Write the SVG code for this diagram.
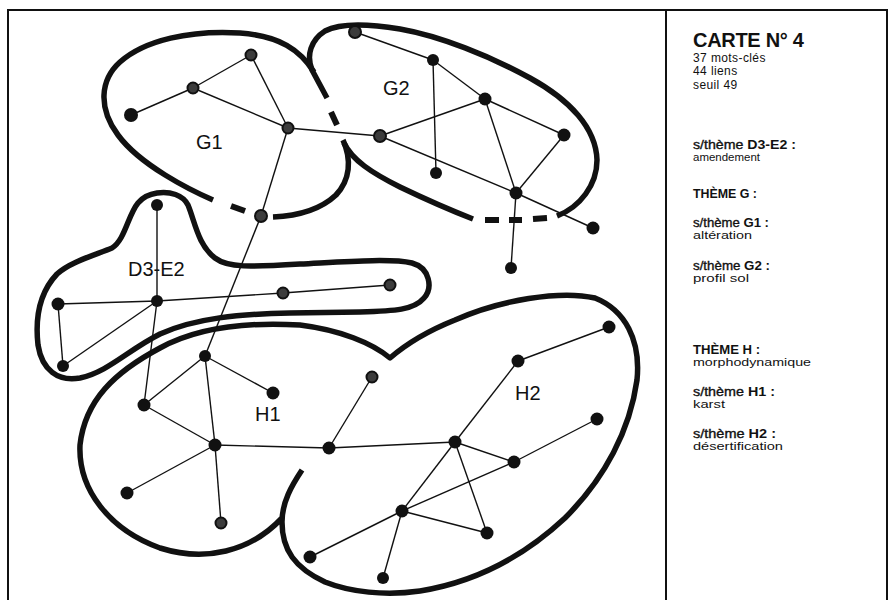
<svg xmlns="http://www.w3.org/2000/svg" width="890" height="600" viewBox="0 0 890 600">
  <style>
    .frame { fill: none; stroke: #111; stroke-width: 2; }
    .zone { fill: none; stroke: #111; stroke-width: 5.5; stroke-linecap: butt; stroke-linejoin: round; }
    .dash { fill: none; stroke: #111; stroke-width: 6; stroke-linecap: butt; }
    .edge { stroke: #111; stroke-width: 1.4; fill: none; }
    .n { fill: #111; }
    .h { fill: #3c3c3c; stroke: #111; stroke-width: 2; }
    .lab { font-family: "Liberation Sans", Arial, sans-serif; font-size: 20px; fill: #111; }
    .leg { font-family: "Liberation Sans", Arial, sans-serif; fill: #111; }
    .title { font-size: 20px; font-weight: bold; letter-spacing: -0.3px; }
    .stat { font-size: 12px; letter-spacing: 0.4px; }
    .head { font-size: 12.5px; }
    .head .pre { stroke: #111; stroke-width: 0.35; }
    .head .code { font-weight: bold; }
    .theme { font-size: 12.5px; font-weight: bold; }
    .sub { font-size: 11.5px; }
  </style>

  <!-- page frame: left, top, right borders and the legend divider -->
  <path class="frame" d="M8,600 L8,10 L887,10 L887,600 M666,10 L666,600"/>

  <!-- theme zones -->
  <g id="zones">
    <!-- G1 -->
    <path class="zone" d="M213,200 C190,190 140,165 118,135 C98,108 100,80 120,62 C145,40 190,30 240,33 C280,36 300,50 314,72"/>
    <path class="zone" d="M343,140 C352,160 350,180 336,195 C320,210 296,216 273,217"/>
    <path class="dash" d="M231,206 L245,211"/>
    <path class="dash" d="M331,112 L337,125"/>
    <!-- G2 -->
    <path class="zone" d="M557,216 C580,207 597,185 597,160 C596,128 570,100 530,78 C490,56 440,36 400,29 C370,24 340,23 325,31 C311,40 306,55 312,70 L327,98"/>
    <path class="zone" d="M344,143 C352,160 372,173 400,187 C425,199 450,210 473,219"/>
    <path class="dash" d="M485,220 L499,220 M509,220 L522,220 M533,219 L547,218"/>
    <!-- D3-E2 -->
    <path class="zone" d="M157,193 C170,191 183,195 188,205 C195,222 198,245 215,258 C228,268 250,267 300,264 C340,262 390,258 412,263 C430,268 433,288 424,298 C414,310 395,311 360,312 L290,313 C240,314 195,318 160,334 C128,350 108,372 80,378 C58,382 42,370 38,345 C35,318 40,292 57,274 C70,262 95,255 112,248 C125,240 128,215 138,203 C143,197 150,194 157,193 Z"/>
    <!-- H (H1 and H2 lobes with a partial divider) -->
    <path class="zone" d="M302,470 C292,485 282,502 282,522 C282,550 295,568 325,582 C350,592 385,596 420,591 C470,583 520,560 565,518 C605,478 630,430 637,380 C641,340 625,310 595,298 C560,290 500,300 455,320 C425,332 405,345 390,358 C372,343 340,330 300,325 C250,322 200,326 160,348 C115,372 85,400 80,445 C78,490 110,530 160,548 C205,562 250,552 282,518"/>
  </g>

  <!-- links between keywords -->
  <g id="links" class="edge">
    <line x1="131" y1="115" x2="193" y2="88"/>
    <line x1="193" y1="88" x2="251" y2="55"/>
    <line x1="193" y1="88" x2="288" y2="128"/>
    <line x1="251" y1="55" x2="288" y2="128"/>
    <line x1="288" y1="128" x2="261" y2="216"/>
    <line x1="288" y1="128" x2="380" y2="136"/>
    <line x1="355" y1="32" x2="433" y2="60"/>
    <line x1="433" y1="60" x2="485" y2="99"/>
    <line x1="433" y1="60" x2="436" y2="173"/>
    <line x1="485" y1="99" x2="380" y2="136"/>
    <line x1="485" y1="99" x2="564" y2="135"/>
    <line x1="485" y1="99" x2="516" y2="193"/>
    <line x1="564" y1="135" x2="516" y2="193"/>
    <line x1="380" y1="136" x2="516" y2="193"/>
    <line x1="516" y1="193" x2="593" y2="228"/>
    <line x1="516" y1="193" x2="511" y2="268"/>
    <line x1="157" y1="205" x2="157" y2="301"/>
    <line x1="58" y1="304" x2="157" y2="301"/>
    <line x1="157" y1="301" x2="283" y2="293"/>
    <line x1="283" y1="293" x2="390" y2="285"/>
    <line x1="58" y1="304" x2="63" y2="366"/>
    <line x1="63" y1="366" x2="157" y2="301"/>
    <line x1="157" y1="301" x2="144" y2="405"/>
    <line x1="261" y1="216" x2="205" y2="356"/>
    <line x1="205" y1="356" x2="273" y2="393"/>
    <line x1="205" y1="356" x2="144" y2="405"/>
    <line x1="205" y1="356" x2="215" y2="445"/>
    <line x1="144" y1="405" x2="215" y2="445"/>
    <line x1="215" y1="445" x2="127" y2="493"/>
    <line x1="215" y1="445" x2="221" y2="523"/>
    <line x1="215" y1="445" x2="329" y2="448"/>
    <line x1="329" y1="448" x2="372" y2="377"/>
    <line x1="329" y1="448" x2="455" y2="442"/>
    <line x1="455" y1="442" x2="518" y2="361"/>
    <line x1="518" y1="361" x2="609" y2="327"/>
    <line x1="455" y1="442" x2="514" y2="462"/>
    <line x1="455" y1="442" x2="402" y2="511"/>
    <line x1="455" y1="442" x2="487" y2="533"/>
    <line x1="514" y1="462" x2="597" y2="419"/>
    <line x1="402" y1="511" x2="514" y2="462"/>
    <line x1="402" y1="511" x2="487" y2="533"/>
    <line x1="402" y1="511" x2="310" y2="557"/>
    <line x1="402" y1="511" x2="383" y2="578"/>
  </g>

  <!-- keywords: theme G1 -->
  <g id="g1-nodes">
    <circle class="n" cx="131" cy="115" r="7"/>
    <circle class="h" cx="193" cy="88" r="5.5"/>
    <circle class="h" cx="251" cy="55" r="5.5"/>
    <circle class="h" cx="288" cy="128" r="5.5"/>
    <circle class="h" cx="261" cy="216" r="6"/>
  </g>
  <!-- keywords: theme G2 -->
  <g id="g2-nodes">
    <circle class="h" cx="355" cy="32" r="6"/>
    <circle class="n" cx="433" cy="60" r="6"/>
    <circle class="n" cx="485" cy="99" r="6.5"/>
    <circle class="h" cx="380" cy="136" r="6"/>
    <circle class="n" cx="436" cy="173" r="6"/>
    <circle class="n" cx="564" cy="135" r="6.5"/>
    <circle class="n" cx="516" cy="193" r="6.5"/>
    <circle class="n" cx="593" cy="228" r="6.5"/>
    <circle class="n" cx="511" cy="268" r="6"/>
  </g>
  <!-- keywords: sub-theme D3-E2 -->
  <g id="d3e2-nodes">
    <circle class="n" cx="157" cy="205" r="6"/>
    <circle class="n" cx="157" cy="301" r="6"/>
    <circle class="n" cx="58" cy="304" r="6.5"/>
    <circle class="n" cx="63" cy="366" r="6"/>
    <circle class="h" cx="283" cy="293" r="5.5"/>
    <circle class="h" cx="390" cy="285" r="5.5"/>
  </g>
  <!-- keywords: theme H1 -->
  <g id="h1-nodes">
    <circle class="n" cx="205" cy="356" r="6"/>
    <circle class="n" cx="273" cy="393" r="6.5"/>
    <circle class="n" cx="144" cy="405" r="6.5"/>
    <circle class="n" cx="215" cy="445" r="6.5"/>
    <circle class="n" cx="127" cy="493" r="6.5"/>
    <circle class="h" cx="221" cy="523" r="5.5"/>
  </g>
  <!-- keywords: theme H2 -->
  <g id="h2-nodes">
    <circle class="n" cx="329" cy="448" r="6.5"/>
    <circle class="h" cx="372" cy="377" r="5.5"/>
    <circle class="n" cx="455" cy="442" r="6.5"/>
    <circle class="n" cx="518" cy="361" r="6.5"/>
    <circle class="n" cx="609" cy="327" r="6.5"/>
    <circle class="n" cx="597" cy="419" r="6.5"/>
    <circle class="n" cx="514" cy="462" r="6.5"/>
    <circle class="n" cx="402" cy="511" r="6.5"/>
    <circle class="n" cx="487" cy="533" r="6.5"/>
    <circle class="n" cx="310" cy="557" r="6.5"/>
    <circle class="n" cx="383" cy="578" r="6"/>
  </g>

  <!-- zone labels -->
  <g id="zone-labels" class="lab">
    <text x="196" y="149">G1</text>
    <text x="383" y="95">G2</text>
    <text x="128" y="276">D3-E2</text>
    <text x="255" y="421">H1</text>
    <text x="515" y="400">H2</text>
  </g>

  <!-- legend -->
  <g id="legend" class="leg">
    <text class="title" x="693" y="47">CARTE N° 4</text>
    <text class="stat" x="693" y="61.5">37 mots-clés</text>
    <text class="stat" x="693" y="75">44 liens</text>
    <text class="stat" x="693" y="88.5">seuil 49</text>

    <text class="head" x="693" y="149" textLength="103" lengthAdjust="spacingAndGlyphs"><tspan class="pre">s/thème </tspan><tspan class="code">D3-E2 :</tspan></text>
    <text class="sub" x="693" y="161" textLength="67" lengthAdjust="spacingAndGlyphs">amendement</text>

    <text class="theme" x="693" y="198" textLength="64" lengthAdjust="spacingAndGlyphs">THÈME G :</text>

    <text class="head" x="693" y="227" textLength="76" lengthAdjust="spacingAndGlyphs"><tspan class="pre">s/thème </tspan><tspan class="code">G1 :</tspan></text>
    <text class="sub" x="693" y="239" textLength="59" lengthAdjust="spacingAndGlyphs">altération</text>

    <text class="head" x="693" y="270" textLength="77" lengthAdjust="spacingAndGlyphs"><tspan class="pre">s/thème </tspan><tspan class="code">G2 :</tspan></text>
    <text class="sub" x="693" y="282" textLength="56" lengthAdjust="spacingAndGlyphs">profil sol</text>

    <text class="theme" x="693" y="354" textLength="67" lengthAdjust="spacingAndGlyphs">THÈME H :</text>
    <text class="sub" x="693" y="366" textLength="118" lengthAdjust="spacingAndGlyphs">morphodynamique</text>

    <text class="head" x="693" y="396" textLength="82" lengthAdjust="spacingAndGlyphs"><tspan class="pre">s/thème </tspan><tspan class="code">H1 :</tspan></text>
    <text class="sub" x="693" y="408" textLength="32" lengthAdjust="spacingAndGlyphs">karst</text>

    <text class="head" x="693" y="438" textLength="83" lengthAdjust="spacingAndGlyphs"><tspan class="pre">s/thème </tspan><tspan class="code">H2 :</tspan></text>
    <text class="sub" x="693" y="450" textLength="90" lengthAdjust="spacingAndGlyphs">désertification</text>
  </g>
</svg>
